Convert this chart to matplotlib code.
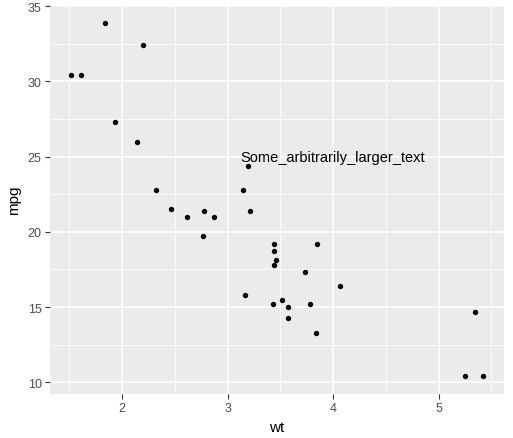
import matplotlib
matplotlib.use("Agg")
import matplotlib.pyplot as plt
from matplotlib.ticker import MultipleLocator

plt.rcParams["font.family"] = ["Liberation Sans", "DejaVu Sans"]

# mtcars weight vs mpg
wt = [2.620, 2.875, 2.320, 3.215, 3.440, 3.460, 3.570, 3.190, 3.150, 3.440, 3.440,
      4.070, 3.730, 3.780, 5.250, 5.424, 5.345, 2.200, 1.615, 1.835, 2.465, 3.520,
      3.435, 3.840, 3.845, 1.935, 2.140, 1.513, 3.170, 2.770, 3.570, 2.780]
mpg = [21.0, 21.0, 22.8, 21.4, 18.7, 18.1, 14.3, 24.4, 22.8, 19.2, 17.8,
       16.4, 17.3, 15.2, 10.4, 10.4, 14.7, 32.4, 30.4, 33.9, 21.5, 15.5,
       15.2, 13.3, 19.2, 27.3, 26.0, 30.4, 15.8, 19.7, 15.0, 21.4]
label_x, label_y = 4, 25
label = "Some_arbitrarily_larger_text"

fig = plt.figure(figsize=(5.13, 4.39), dpi=100)
ax = fig.add_axes([50 / 513, 44 / 439, 454 / 513, 389 / 439])
ax.set_facecolor("#EBEBEB")

ax.scatter(wt, mpg, s=15, color="black", zorder=3, linewidths=0)
ax.text(label_x, label_y, label, ha="center", va="center", fontsize=10.5, zorder=4)

span = max(wt) - min(wt)
ax.set_xlim(min(wt) - 0.05 * span, max(wt) + 0.05 * span)
span = max(mpg) - min(mpg)
ax.set_ylim(min(mpg) - 0.05 * span, max(mpg) + 0.05 * span)

ax.xaxis.set_major_locator(MultipleLocator(1))
ax.xaxis.set_minor_locator(MultipleLocator(0.5))
ax.yaxis.set_major_locator(MultipleLocator(5))
ax.yaxis.set_minor_locator(MultipleLocator(2.5))
ax.grid(which="major", color="white", linewidth=1.1, zorder=0)
ax.grid(which="minor", color="white", linewidth=0.55, zorder=0)
ax.set_axisbelow(True)
for s in ax.spines.values():
    s.set_visible(False)

ax.tick_params(which="major", length=3.5, width=0.8, color="#333333",
               labelcolor="#4D4D4D", labelsize=9, pad=2.5)
ax.tick_params(which="minor", length=0)
ax.set_xlabel("wt", fontsize=11, labelpad=4)
ax.set_ylabel("mpg", fontsize=11, labelpad=5)

fig.savefig("out.png", dpi=100)
